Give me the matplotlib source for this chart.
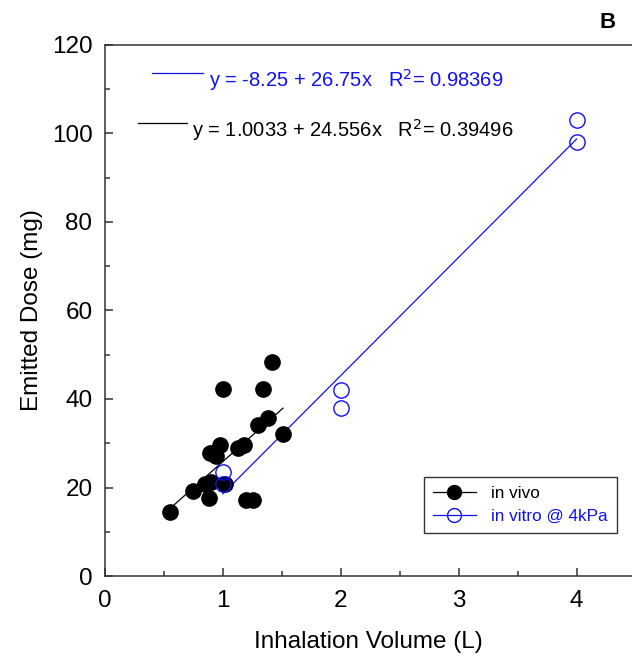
import numpy as np
import matplotlib.pyplot as plt
from matplotlib.ticker import MultipleLocator

plt.rcParams['font.family'] = ['Liberation Sans', 'DejaVu Sans']

# in vivo
vivo_x = [0.55, 0.75, 0.85, 0.88, 0.90, 1.02, 0.89, 0.94, 0.98, 1.00,
          1.13, 1.18, 1.20, 1.26, 1.30, 1.34, 1.38, 1.42, 1.51]
vivo_y = [14.4, 19.1, 20.9, 17.6, 21.3, 20.8, 27.7, 27.2, 29.6, 42.3,
          29.0, 29.5, 17.1, 17.1, 34.2, 42.3, 35.8, 48.4, 32.0]

# in vitro @ 4kPa
vitro_x = [1, 1, 2, 2, 4, 4]
vitro_y = [23.5, 20.7, 42.0, 38.0, 103.0, 98.0]

eq_vitro = 'y = -8.25 + 26.75x   R$^2$= 0.98369'
eq_vivo = 'y = 1.0033 + 24.556x   R$^2$= 0.39496'

blue = '#1010f0'

fig = plt.figure(figsize=(6.32, 6.63), dpi=100)
ax = fig.add_axes([0.166, 0.1312, 0.834, 0.801])

# fit lines
xv = np.array(vivo_x)
k1, b1 = np.polyfit(xv, vivo_y, 1)
xs1 = np.array([xv.min(), xv.max()])
ax.plot(xs1, k1 * xs1 + b1, color='black', linewidth=0.9)

xt = np.array(vitro_x, dtype=float)
k2, b2 = np.polyfit(xt, vitro_y, 1)
xs2 = np.array([xt.min(), xt.max()])
ax.plot(xs2, k2 * xs2 + b2, color=blue, linewidth=0.9)

ax.plot(vivo_x, vivo_y, 'o', color='black', markersize=11, label='in vivo')
ax.plot(vitro_x, vitro_y, 'o', markerfacecolor='none', markeredgecolor=blue,
        markeredgewidth=1.0, markersize=11, label='in vitro @ 4kPa')

ax.set_xlim(0, 4.47)
ax.set_ylim(0, 120)
ax.xaxis.set_major_locator(MultipleLocator(1))
ax.xaxis.set_minor_locator(MultipleLocator(0.5))
ax.yaxis.set_major_locator(MultipleLocator(20))
ax.yaxis.set_minor_locator(MultipleLocator(10))
ax.tick_params(which='both', direction='in', labelsize=17.5, color='#333333', width=1.1)
ax.tick_params(which='major', length=6)
ax.tick_params(which='minor', length=3.5)
ax.tick_params(axis='x', pad=10)
ax.tick_params(axis='y', pad=9)
for s in ['left', 'bottom', 'top']:
    ax.spines[s].set_linewidth(1.1)
    ax.spines[s].set_color('#333333')
ax.spines['right'].set_visible(False)

ax.set_xlabel('Inhalation Volume (L)', fontsize=17.5, labelpad=14)
ax.set_ylabel('Emitted Dose (mg)', fontsize=17.5, labelpad=6)

# equation annotations
ax.plot([0.40, 0.83], [113.7, 113.7], color=blue, linewidth=0.9)
ax.text(0.88, 112.1, eq_vitro, color=blue, fontsize=14.5, va='center')
ax.plot([0.28, 0.70], [102.4, 102.4], color='black', linewidth=0.9)
ax.text(0.74, 100.8, eq_vivo, color='black', fontsize=14.5, va='center')

leg = ax.legend(loc='lower right', bbox_to_anchor=(0.972, 0.081), fontsize=12.3,
                frameon=True, fancybox=False, edgecolor='black',
                handlelength=2.5, handletextpad=0.9, borderpad=0.55,
                labelspacing=0.45, borderaxespad=0)
leg.get_frame().set_linewidth(1.0)
for t, c in zip(leg.get_texts(), ['black', blue]):
    t.set_color(c)
for h in leg.legend_handles:
    h.set_linestyle('-')
    h.set_linewidth(0.9)
leg.legend_handles[0].set_color('black')
leg.legend_handles[1].set_color(blue)
leg.legend_handles[1].set_markerfacecolor('none')
leg.legend_handles[0].set_markersize(10)
leg.legend_handles[1].set_markersize(10)

fig.text(0.962, 0.966, 'B', fontsize=16, fontweight='bold', ha='center', va='center')

plt.savefig('out.png', dpi=100)
